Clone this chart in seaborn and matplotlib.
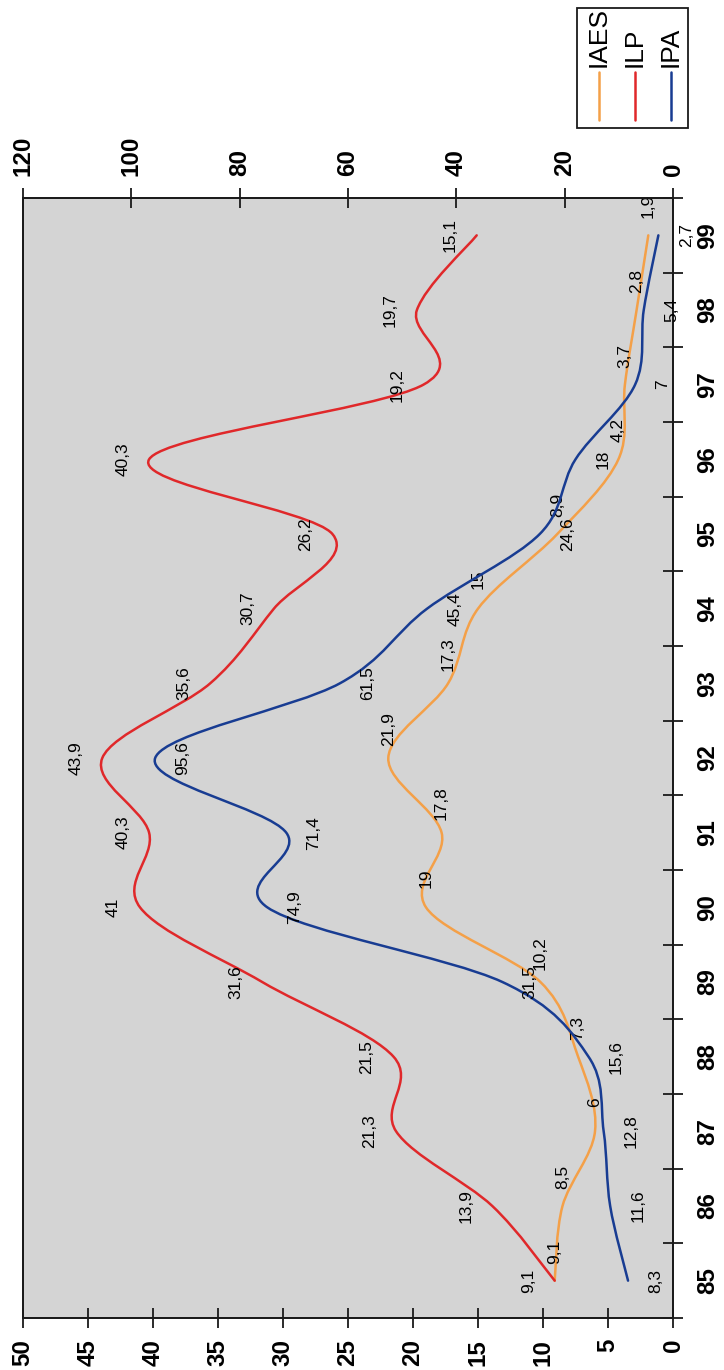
import numpy as np
import matplotlib
matplotlib.use("Agg")
import matplotlib.pyplot as plt
import seaborn as sns
from matplotlib.path import Path
from matplotlib.patches import PathPatch, Rectangle
from matplotlib.lines import Line2D

# ---------------- data ----------------
years = [85, 86, 87, 88, 89, 90, 91, 92, 93, 94, 95, 96, 97, 98, 99]
iaes = [9.1, 8.5, 6, 7.3, 10.2, 19, 17.8, 21.9, 17.3, 15, 8.9, 4.2, 3.7, 2.8, 1.9]
ilp = [9.1, 13.9, 21.3, 21.5, 31.6, 41, 40.3, 43.9, 35.6, 30.7, 26.2, 40.3, 19.2, 19.7, 15.1]
ipa = [8.3, 11.6, 12.8, 15.6, 31.5, 74.9, 71.4, 95.6, 61.5, 45.4, 24.6, 18.0, 7, 5.4, 2.7]
series_names = ["IAES", "ILP", "IPA"]
left_ticks = [0, 5, 10, 15, 20, 25, 30, 35, 40, 45, 50]
right_ticks = [0, 20, 40, 60, 80, 100, 120]

colors = {"IAES": "#f4a048", "ILP": "#e0282a", "IPA": "#183c92"}

sns.set_theme(style="white")
plt.rcParams["font.family"] = ["Liberation Sans Narrow", "Liberation Sans", "DejaVu Sans"]

fig = plt.figure(figsize=(7.24, 13.70), dpi=100)
L, R, B, T = 23 / 724, 673 / 724, 1 - 1318 / 1370, 1 - 198 / 1370
ax = fig.add_axes([L, B, R - L, T - B])
ax.set_facecolor("#d4d4d4")
pos = np.arange(len(years))
ax.set_xlim(left_ticks[-1], left_ticks[0])
ax.set_ylim(-0.5, len(years) - 0.5)
ax2 = ax.twiny()
ax2.set_xlim(right_ticks[-1], right_ticks[0])


def smooth_path(values, positions):
    """Excel-like smoothed line: cubic Bezier segments through the data points."""
    P = np.column_stack([values, positions]).astype(float)
    n = len(P)
    verts = [P[0]]
    codes = [Path.MOVETO]
    for i in range(n - 1):
        p0 = P[i - 1] if i > 0 else P[i]
        p1 = P[i]
        p2 = P[i + 1]
        p3 = P[i + 2] if i + 2 < n else P[i + 1]
        c1 = p1 + (p2 - p0) / 6.0
        c2 = p2 - (p3 - p1) / 6.0
        verts += [c1, c2, p2]
        codes += [Path.CURVE4] * 3
    return Path(verts, codes)


def fmt(v):
    if float(v).is_integer():
        return str(int(v))
    return f"{v:.1f}".replace(".", ",")


# label offsets (points) for each series
offsets = {"IAES": (0, 21), "ILP": (-19, 0), "IPA": (20, 0)}

for name, vals, axis in [("IAES", iaes, ax), ("ILP", ilp, ax), ("IPA", ipa, ax2)]:
    patch = PathPatch(smooth_path(vals, pos), facecolor="none", edgecolor=colors[name],
                      lw=1.8, capstyle="round", joinstyle="round", zorder=3)
    axis.add_patch(patch)
    dx, dy = offsets[name]
    for v, p in zip(vals, pos):
        axis.annotate(fmt(v), (v, p), xytext=(dx, dy), textcoords="offset points",
                      rotation=90, ha="center", va="center", fontsize=12.5,
                      color="black", zorder=4, annotation_clip=False)

# ---------------- axes styling ----------------
for a in (ax, ax2):
    for s in a.spines.values():
        s.set_color("#1a1a1a")
        s.set_linewidth(1.3)
    a.grid(False)

ax.set_xticks(left_ticks)
ax.set_xticklabels([str(t) for t in left_ticks], fontweight="bold")
ax.tick_params(axis="x", bottom=True, top=False, direction="inout", length=14, width=1.3,
               color="#1a1a1a", labelrotation=90, labelsize=17.4, pad=8, labelcolor="black")

ax2.set_xticks(right_ticks)
ax2.set_xticklabels([str(t) for t in right_ticks], fontweight="bold")
ax2.tick_params(axis="x", top=True, bottom=False, direction="inout", length=14, width=1.3,
                color="#1a1a1a", labelrotation=90, labelsize=17.4, pad=9, labelcolor="black")

ax.yaxis.tick_right()
ax.set_yticks(np.arange(-0.5, len(years), 1.0))
ax.set_yticklabels([])
ax.set_yticks(pos, minor=True)
ax.set_yticklabels([str(y) for y in years], minor=True, fontweight="bold")
ax.tick_params(axis="y", which="major", right=True, left=False, direction="inout", length=14,
               width=1.3, color="#1a1a1a")
ax.tick_params(axis="y", which="minor", right=True, left=False, length=0, labelrotation=90,
               labelsize=17.4, pad=17, labelcolor="black")
for lab in ax.get_yticklabels(minor=True):
    lab.set_verticalalignment("center")

# ---------------- legend (drawn rotated, like the rest) ----------------
fig.patches.append(Rectangle((577 / 724, 1 - 128 / 1370), 111 / 724, 120 / 1370,
                             transform=fig.transFigure, facecolor="white",
                             edgecolor="#1a1a1a", lw=1.3, zorder=5))
for i, name in enumerate(series_names):
    xc = (599 + 36 * i) / 724
    fig.lines.append(Line2D([xc, xc], [1 - 120 / 1370, 1 - 72 / 1370], transform=fig.transFigure,
                            color=colors[name], lw=1.8, zorder=6))
    fig.text(xc, 1 - 67 / 1370, name, rotation=90, ha="center", va="bottom",
             fontsize=19, color="black", zorder=6)

fig.savefig("out.png", dpi=100, facecolor="white")
